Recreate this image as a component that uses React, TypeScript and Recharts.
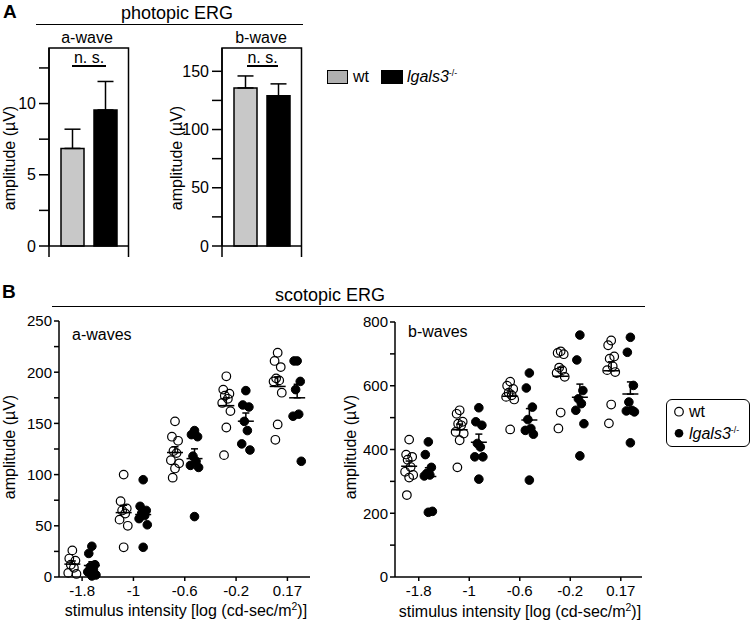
import React from "react";
import { BarChart, Bar, ScatterChart, Scatter, XAxis, YAxis, ErrorBar, ReferenceArea } from "recharts";

const FONT = "'Liberation Sans', Arial, sans-serif";

// A: photopic ERG, mean amplitude (µV) and SEM
const photopicWaves = ["a-wave", "b-wave"];
const photopicWt = [6.85, 135.7];
const photopicWtSem = [1.35, 10.3];
const photopicKo = [9.55, 128.9];
const photopicKoSem = [2.0, 10.3];

// B: scotopic ERG, single eyes per stimulus intensity
const intensities = ["-1.8", "-1", "-0.6", "-0.2", "0.17"];

const aWaveWt = [
  [26, 18, 16, 12, 9, 4, 3],
  [100, 74, 67, 65, 62, 56, 50, 29],
  [152, 137, 133, 123, 121, 114, 111, 106, 97],
  [196, 183, 179, 177, 174, 170, 162, 146, 119],
  [219, 211, 205, 194, 192, 191, 180, 149, 134],
];
const aWaveKo = [
  [30, 23, 12, 10, 7, 5, 2, 1],
  [95, 69, 65, 62, 60, 57, 51, 29],
  [143, 139, 137, 118, 113, 109, 107, 59],
  [182, 168, 166, 152, 143, 130, 124],
  [211, 211, 191, 183, 159, 157, 113],
];
const bWaveWt = [
  [431, 384, 377, 368, 345, 330, 320, 312, 257],
  [523, 512, 487, 481, 476, 455, 450, 429, 344],
  [613, 600, 590, 578, 570, 565, 557, 463],
  [708, 703, 699, 657, 649, 640, 628, 516, 466],
  [742, 727, 692, 685, 661, 649, 643, 541, 482],
];
const bWaveKo = [
  [424, 384, 344, 325, 320, 317, 206, 203],
  [531, 487, 476, 419, 408, 377, 377, 307],
  [640, 593, 533, 494, 466, 460, 448, 304],
  [759, 681, 585, 559, 544, 523, 481, 380],
  [752, 705, 601, 549, 523, 521, 518, 421],
];

// horizontal spread of the column scatter, in category units
const JITTER = [0, -0.06, 0.06, -0.03, 0.03, -0.08, 0.08, 0, -0.045];

const mean = (v: number[]) => v.reduce((s, x) => s + x, 0) / v.length;
const sem = (v: number[]) => {
  const m = mean(v);
  return Math.sqrt(v.reduce((s, x) => s + (x - m) ** 2, 0) / (v.length - 1) / v.length);
};

const toPoints = (groups: number[][], shift: number) =>
  groups.flatMap((vals, i) => vals.map((v, k) => ({ x: i + shift + JITTER[k % JITTER.length], y: v })));
const toMeans = (groups: number[][], shift: number) =>
  groups.map((vals, i) => ({ x: i + shift, y: mean(vals), err: [0, sem(vals)] }));

const axisStyle = { stroke: "#000", strokeWidth: 1.5 };

const HollowDot = (p: any) => (
  <circle cx={p.cx} cy={p.cy} r={4.3} fill="none" stroke="#000" strokeWidth={1.2} />
);
const FilledDot = (p: any) => <circle cx={p.cx} cy={p.cy} r={4.3} fill="#000" stroke="#000" strokeWidth={1} />;
const MeanMark = (p: any) => (
  <line x1={p.cx - 8} x2={p.cx + 8} y1={p.cy} y2={p.cy} stroke="#000" strokeWidth={1.5} />
);

function Txt({ x, y, size = 16, anchor = "middle", rotate = false, weight = 400, children }: any) {
  const tx = anchor === "middle" ? "-50%" : anchor === "end" ? "-100%" : "0";
  return (
    <div
      style={{
        position: "absolute",
        left: x,
        top: y,
        transform: `translate(${tx}, -50%)${rotate ? " rotate(-90deg)" : ""}`,
        fontSize: size,
        fontWeight: weight,
        lineHeight: 1,
        whiteSpace: "nowrap",
        color: "#000",
      }}
    >
      {children}
    </div>
  );
}

const HLine = ({ x1, x2, y }: any) => (
  <div style={{ position: "absolute", left: x1, top: y - 0.75, width: x2 - x1, height: 1.5, background: "#000" }} />
);

const Lgals3 = () => (
  <span style={{ fontStyle: "italic" }}>
    lgals3<span style={{ fontSize: "0.55em", verticalAlign: "0.7em", fontStyle: "normal" }}>-/-</span>
  </span>
);

const PLOT_W = 79.5;
const PLOT_H = 198;
const FRAME_DROP = 11;

function PhotopicPanel({ index, left, width, yMax, ticks, labelled, yAxisWidth }: any) {
  const data = [
    {
      name: photopicWaves[index],
      wt: photopicWt[index],
      ko: photopicKo[index],
      wtErr: [0, photopicWtSem[index]],
      koErr: [0, photopicKoSem[index]],
    },
  ];
  // frame: top, right and left sides; the sides run a little below the zero line
  const frameLow = -(FRAME_DROP / PLOT_H) * yMax;
  const sideH = PLOT_H + FRAME_DROP;
  return (
    <div style={{ position: "absolute", left, top: 30 }}>
      <BarChart
        width={width}
        height={240}
        data={data}
        margin={{ top: 18, right: width - yAxisWidth - PLOT_W, bottom: 10, left: 0 }}
        barSize={23}
        barGap={10}
      >
        <XAxis xAxisId="cat" dataKey="name" tick={false} tickLine={false} height={14} axisLine={axisStyle} />
        <YAxis
          yAxisId="left"
          type="number"
          domain={[0, yMax]}
          ticks={ticks}
          interval={0}
          tickFormatter={(v: number) => (labelled.includes(v) ? String(v) : "")}
          tickSize={10}
          tickMargin={3}
          width={yAxisWidth}
          axisLine={axisStyle}
          tickLine={axisStyle}
          tick={{ fill: "#000", fontSize: 16 }}
        />
        <ReferenceArea
          xAxisId="cat"
          yAxisId="left"
          y1={frameLow}
          y2={yMax}
          ifOverflow="visible"
          fill="none"
          fillOpacity={0}
          stroke="#000"
          strokeWidth={1.5}
          strokeDasharray={`${PLOT_W + sideH} ${PLOT_W} ${sideH + 4}`}
        />
        <Bar xAxisId="cat" yAxisId="left" dataKey="wt" fill="#c8c8c8" stroke="#000" strokeWidth={1.5} isAnimationActive={false}>
          <ErrorBar dataKey="wtErr" direction="y" width={8} stroke="#000" strokeWidth={1.5} isAnimationActive={false} />
        </Bar>
        <Bar xAxisId="cat" yAxisId="left" dataKey="ko" fill="#000" stroke="#000" strokeWidth={1.5} isAnimationActive={false}>
          <ErrorBar dataKey="koErr" direction="y" width={8} stroke="#000" strokeWidth={1.5} isAnimationActive={false} />
        </Bar>
      </BarChart>
    </div>
  );
}

function ScotopicPanel({ left, wt, ko, yMax, yTicks, yLabelled, xDomain, yAxisWidth, top, right }: any) {
  const wtShift = -0.19;
  const koShift = 0.19;
  return (
    <div style={{ position: "absolute", left, top: 310 }}>
      <ScatterChart width={320} height={300} margin={{ top, right, bottom: 3, left: 0 }}>
        <XAxis
          type="number"
          dataKey="x"
          domain={xDomain}
          ticks={[0, 1, 2, 3, 4]}
          interval={0}
          tickFormatter={(v: number) => intensities[v]}
          tickSize={4}
          tickMargin={4}
          height={30}
          allowDataOverflow
          axisLine={axisStyle}
          tickLine={axisStyle}
          tick={{ fill: "#000", fontSize: 15 }}
        />
        <YAxis
          type="number"
          dataKey="y"
          domain={[0, yMax]}
          ticks={yTicks}
          interval={0}
          tickFormatter={(v: number) => (yLabelled.includes(v) ? String(v) : "")}
          tickSize={5}
          tickMargin={2}
          width={yAxisWidth}
          axisLine={axisStyle}
          tickLine={axisStyle}
          tick={{ fill: "#000", fontSize: 15 }}
        />
        <Scatter data={toPoints(wt, wtShift)} shape={HollowDot} isAnimationActive={false} />
        <Scatter data={toPoints(ko, koShift)} shape={FilledDot} isAnimationActive={false} />
        <Scatter data={toMeans(wt, wtShift)} shape={MeanMark} isAnimationActive={false}>
          <ErrorBar dataKey="err" direction="y" width={3.5} stroke="#000" strokeWidth={1.5} isAnimationActive={false} />
        </Scatter>
        <Scatter data={toMeans(ko, koShift)} shape={MeanMark} isAnimationActive={false}>
          <ErrorBar dataKey="err" direction="y" width={3.5} stroke="#000" strokeWidth={1.5} isAnimationActive={false} />
        </Scatter>
      </ScatterChart>
    </div>
  );
}

export default function App() {
  const xLabel = (
    <span>
      stimulus intensity [log (cd-sec/m<span style={{ fontSize: "0.65em", verticalAlign: "0.6em" }}>2</span>)]
    </span>
  );
  return (
    <div
      style={{
        position: "absolute",
        left: 0,
        top: 0,
        width: 752,
        height: 622,
        background: "#fff",
        fontFamily: FONT,
        overflow: "hidden",
      }}
    >
      {/* panel A */}
      <Txt x={3} y={10.5} size={19} weight={700} anchor="start">A</Txt>
      <Txt x={177} y={13} size={18}>photopic ERG</Txt>
      <HLine x1={36} x2={303} y={24.3} />
      <Txt x={87} y={38} size={16}>a-wave</Txt>
      <Txt x={261} y={38} size={16}>b-wave</Txt>

      <PhotopicPanel index={0} left={0} width={140} yMax={13.9} ticks={[0, 2.5, 5, 7.5, 10, 12.5]} labelled={[0, 5, 10]} yAxisWidth={49} />
      <PhotopicPanel index={1} left={170} width={145} yMax={170} ticks={[0, 25, 50, 75, 100, 125, 150]} labelled={[0, 50, 100, 150]} yAxisWidth={52} />

      <Txt x={89} y={58} size={16}>n. s.</Txt>
      <HLine x1={72} x2={106} y={66} />
      <Txt x={262.5} y={58} size={16}>n. s.</Txt>
      <HLine x1={247} x2={278} y={66} />

      <Txt x={10} y={158} size={16} rotate>amplitude (µV)</Txt>
      <Txt x={177} y={158} size={16} rotate>amplitude (µV)</Txt>

      <div style={{ position: "absolute", left: 327, top: 70, width: 21, height: 14, boxSizing: "border-box", border: "1.5px solid #000", background: "#b0b0b0" }} />
      <Txt x={353} y={77} size={16} anchor="start">wt</Txt>
      <div style={{ position: "absolute", left: 381, top: 70, width: 22, height: 14, background: "#000" }} />
      <Txt x={407} y={77} size={16} anchor="start"><Lgals3 /></Txt>

      {/* panel B */}
      <Txt x={2} y={290.5} size={19} weight={700} anchor="start">B</Txt>
      <Txt x={330} y={295} size={18}>scotopic ERG</Txt>
      <HLine x1={52} x2={645} y={306.5} />

      <ScotopicPanel left={0} wt={aWaveWt} ko={aWaveKo} yMax={250} yTicks={[0, 25, 50, 75, 100, 125, 150, 175, 200, 225, 250]} yLabelled={[0, 50, 100, 150, 200, 250]} xDomain={[-0.45, 4.44]} yAxisWidth={59} top={11} right={10} />
      <ScotopicPanel left={330} wt={bWaveWt} ko={bWaveKo} yMax={800} yTicks={[0, 100, 200, 300, 400, 500, 600, 700, 800]} yLabelled={[0, 200, 400, 600, 800]} xDomain={[-0.47, 4.42]} yAxisWidth={65} top={12} right={8} />

      <Txt x={72} y={335} size={16} anchor="start">a-waves</Txt>
      <Txt x={408} y={332} size={16} anchor="start">b-waves</Txt>
      <Txt x={10} y={447} size={16} rotate>amplitude (µV)</Txt>
      <Txt x={351} y={447} size={16} rotate>amplitude (µV)</Txt>
      <Txt x={186} y={611} size={16}>{xLabel}</Txt>
      <Txt x={520} y={612} size={16}>{xLabel}</Txt>

      <div style={{ position: "absolute", left: 666, top: 399, width: 84, height: 48, boxSizing: "border-box", border: "1.5px solid #000", borderRadius: 6 }} />
      <svg style={{ position: "absolute", left: 673, top: 405 }} width={12} height={36}>
        <circle cx={6} cy={6.7} r={4.3} fill="none" stroke="#000" strokeWidth={1.2} />
        <circle cx={6} cy={28.3} r={4.3} fill="#000" />
      </svg>
      <Txt x={689} y={411.5} size={16} anchor="start">wt</Txt>
      <Txt x={689} y={433.5} size={16} anchor="start"><Lgals3 /></Txt>
    </div>
  );
}
